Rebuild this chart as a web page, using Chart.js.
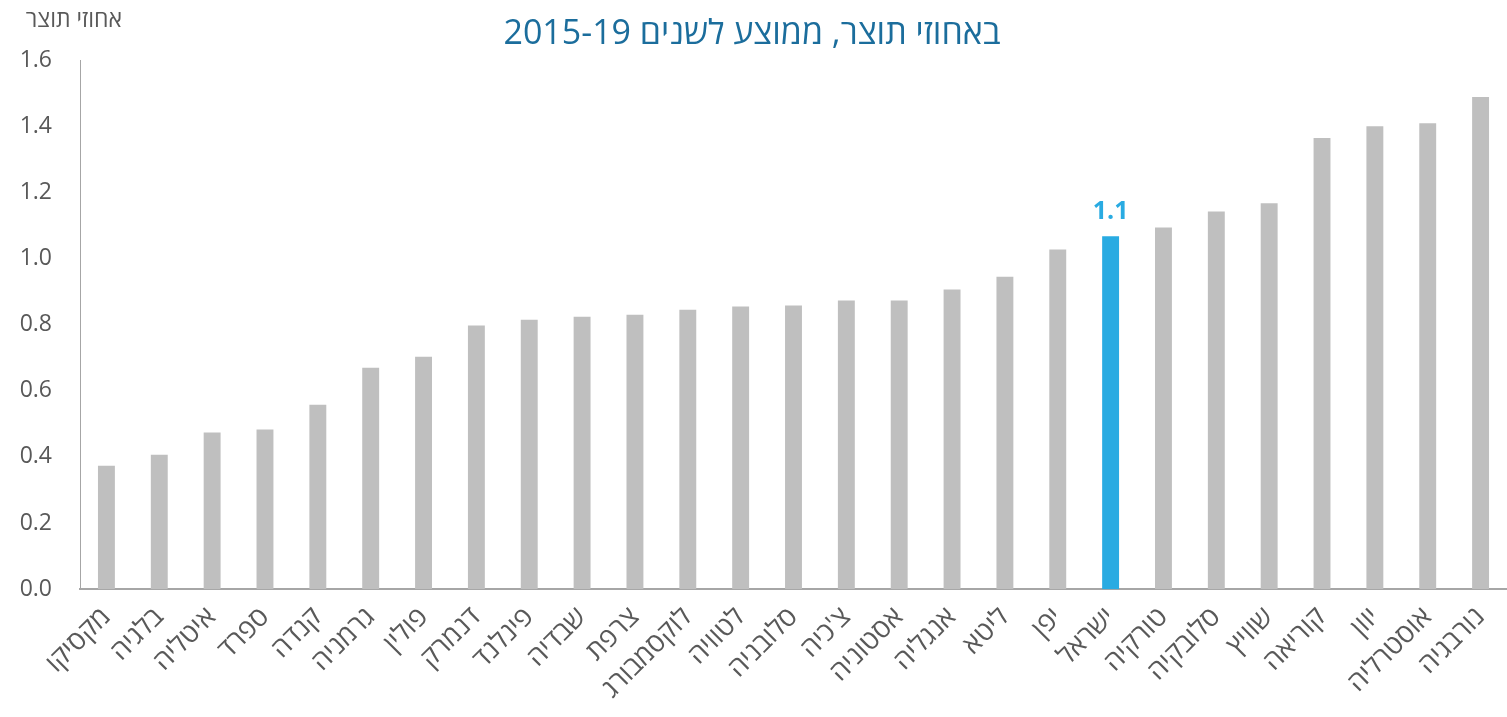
<!DOCTYPE html>
<html lang="he">
<head>
<meta charset="utf-8">
<title>אחוזי תוצר</title>
<script src="https://cdn.jsdelivr.net/npm/chart.js@4"></script>
<style>
  html, body { margin: 0; padding: 0; background: #fff; }
  #wrap { width: 1507px; height: 717px; }
</style>
</head>
<body>
<div id="wrap"><canvas id="chart" width="1507" height="717"></canvas></div>
<script>
// נתונים - ממוצע 2015-19, באחוזי תוצר
const countries = [
    'מקסיקו', 'בלגיה', 'איטליה', 'ספרד', 'קנדה', 'גרמניה', 'פולין', 'דנמרק', 'פינלנד',
    'שבדיה', 'צרפת', 'לוקסמבורג', 'לטוויה', 'סלובניה', "צ'כיה", 'אסטוניה', 'אנגליה',
    'ליטא', 'יפן', 'ישראל', 'טורקיה', 'סלובקיה', 'שוויץ', 'קוריאה', 'יוון', 'אוסטרליה', 'נורבגיה'
];
const shareOfGdp = [
    0.373, 0.407, 0.474, 0.483, 0.558, 0.670, 0.703, 0.797, 0.815,
    0.824, 0.830, 0.845, 0.855, 0.858, 0.873, 0.873, 0.906,
    0.945, 1.027, 1.067, 1.094, 1.142, 1.167, 1.364, 1.400, 1.409, 1.488
];
const highlight = 'ישראל';
const highlightLabel = '1.1';
const titleText = 'באחוזי תוצר, ממוצע לשנים 2015-19';
const yAxisTitle = 'אחוזי תוצר';

const FONT = "'Open Sans', 'Liberation Sans', 'DejaVu Sans', sans-serif";
const grey = '#bfbfbf';
const blue = '#29abe2';
const textGrey = '#595959';
const axisGrey = '#a6a6a6';

// כותרות + תווית ישראל
const extrasPlugin = {
    id: 'extras',
    afterDraw(chart) {
        const ctx = chart.ctx;
        ctx.save();
        ctx.fillStyle = '#1b6d9c';
        ctx.font = '34px ' + FONT;
        ctx.textAlign = 'center';
        ctx.textBaseline = 'alphabetic';
        ctx.fillText(titleText, 752, 44);

        ctx.fillStyle = textGrey;
        ctx.font = '23px ' + FONT;
        ctx.textAlign = 'right';
        ctx.fillText(yAxisTitle, 122, 27);

        const idx = countries.indexOf(highlight);
        const x = chart.scales.x.getPixelForValue(idx);
        const y = chart.scales.y.getPixelForValue(shareOfGdp[idx]);
        ctx.fillStyle = blue;
        ctx.font = 'bold 25px ' + FONT;
        ctx.textAlign = 'center';
        ctx.fillText(highlightLabel, x, y - 17);
        ctx.restore();
    }
};

new Chart(document.getElementById('chart'), {
    type: 'bar',
    data: {
        labels: countries,
        datasets: [{
            data: shareOfGdp,
            backgroundColor: countries.map(c => c === highlight ? blue : grey),
            barPercentage: 0.32,
            categoryPercentage: 1.0
        }]
    },
    options: {
        responsive: false,
        animation: false,
        layout: { padding: { top: 60, left: 0, right: 0, bottom: 0 } },
        plugins: {
            legend: { display: false },
            tooltip: { enabled: false }
        },
        scales: {
            x: {
                grid: { display: false, drawTicks: false },
                border: { display: true, color: axisGrey, width: 2 },
                // התוויות המסובבות לא צריכות לדחוף את הציר שמאלה
                afterFit: s => { s.paddingLeft = 0; s.paddingRight = 0; },
                ticks: {
                    color: textGrey,
                    font: { family: FONT, size: 27 },
                    maxRotation: 45,
                    minRotation: 45,
                    autoSkip: false,
                    padding: 12
                }
            },
            y: {
                min: 0,
                max: 1.6,
                grid: { display: false, drawTicks: false },
                border: { display: true, color: axisGrey, width: 1 },
                afterFit: s => { s.width = 80; },
                ticks: {
                    stepSize: 0.2,
                    color: textGrey,
                    font: { family: FONT, size: 23 },
                    padding: 28,
                    callback: v => v.toFixed(1)
                }
            }
        }
    },
    plugins: [extrasPlugin]
});
</script>
</body>
</html>
